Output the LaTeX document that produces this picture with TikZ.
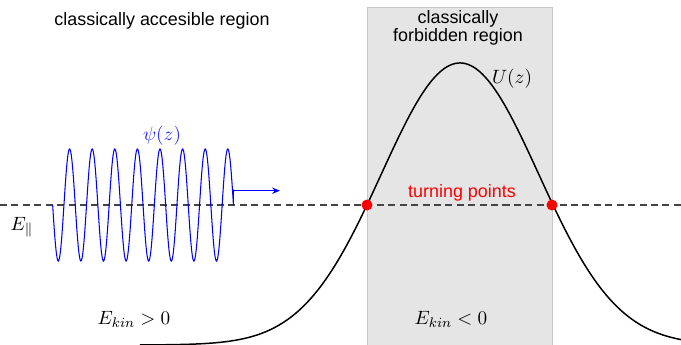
\documentclass[tikz,border=0pt]{standalone}
\usepackage[no-math]{fontspec}
\newfontfamily\labelfont{Liberation Sans}
\usetikzlibrary{arrows.meta, positioning}
\definecolor{regiongray}{HTML}{E5E5E5}
\definecolor{regionedge}{HTML}{C8C8C8}
\definecolor{levelgray}{HTML}{444444}

\begin{document}
\begin{tikzpicture}[
        x=0.02cm, y=-0.02cm,
        txt/.style={font=\labelfont\fontsize{10.2}{9.5}\selectfont, align=center, inner sep=0pt},
        mth/.style={font=\fontsize{11.4}{13}\selectfont, inner sep=0pt},
        level/.style={levelgray, dash pattern=on 4pt off 2.5pt, line width=0.7pt},
        tpoint/.style={circle, fill=red, inner sep=0pt, minimum size=0.22cm},
        wave/.style={blue, line width=0.6pt},
        arrow/.style={-{Stealth[length=4.5pt,width=3.6pt]}, blue, line width=0.8pt}
    ]
        \useasboundingbox (0,0) rectangle (681,345);

        % forbidden region
        \filldraw[fill=regiongray, draw=regionedge, line width=0.4pt] (367,7) rectangle (552,345);

        % energy level
        \coordinate (levL) at (0,205);
        \coordinate (levR) at (681,205);
        \draw[level] (levL) -- (levR);

        % potential barrier
        \draw[line width=0.85pt, domain=140:681, samples=200] plot (\x, {345-282*exp(-0.5*((\x-460)/78.6)^2)});

        % wave packet
        \draw[wave, domain=52.65:233.45, samples=321] plot (\x, {205+56*sin(15.929*(\x-52.65))});
        \coordinate (wend) at (233.45,205);
        \coordinate (astart) at (233.45,190.7);
        \coordinate (aend) at (280,190.7);
        \draw[wave] (wend) -- (astart);
        \fill[blue] (astart) circle (0.8pt);
        \draw[arrow] (astart) -- (aend);

        % turning points
        \node[tpoint] (tpleft) at (367,205) {};
        \node[tpoint] (tpright) at (552,205) {};

        % labels
        \node[txt, anchor=base] (accreg) at (162,25) {classically accesible region};
        \node[txt] (forbreg) at (458,28) {classically\\forbidden region};
        \node[txt, anchor=base, text=red] (tplabel) at (462,197.5) {turning points};
        \node[mth, anchor=base] (ulabel) at (512,83) {$U(z)$};
        \node[mth, anchor=base, text=blue!85] (psilabel) at (162,140) {$\psi(z)$};
        \node[mth, anchor=base] (elabel) at (22,230) {$E_{\|}$};
        \node[mth, anchor=base] (ekinpos) at (134,324) {$E_{kin}>0$};
        \node[mth, anchor=base] (ekinneg) at (451,324) {$E_{kin}<0$};
\end{tikzpicture}
\end{document}
